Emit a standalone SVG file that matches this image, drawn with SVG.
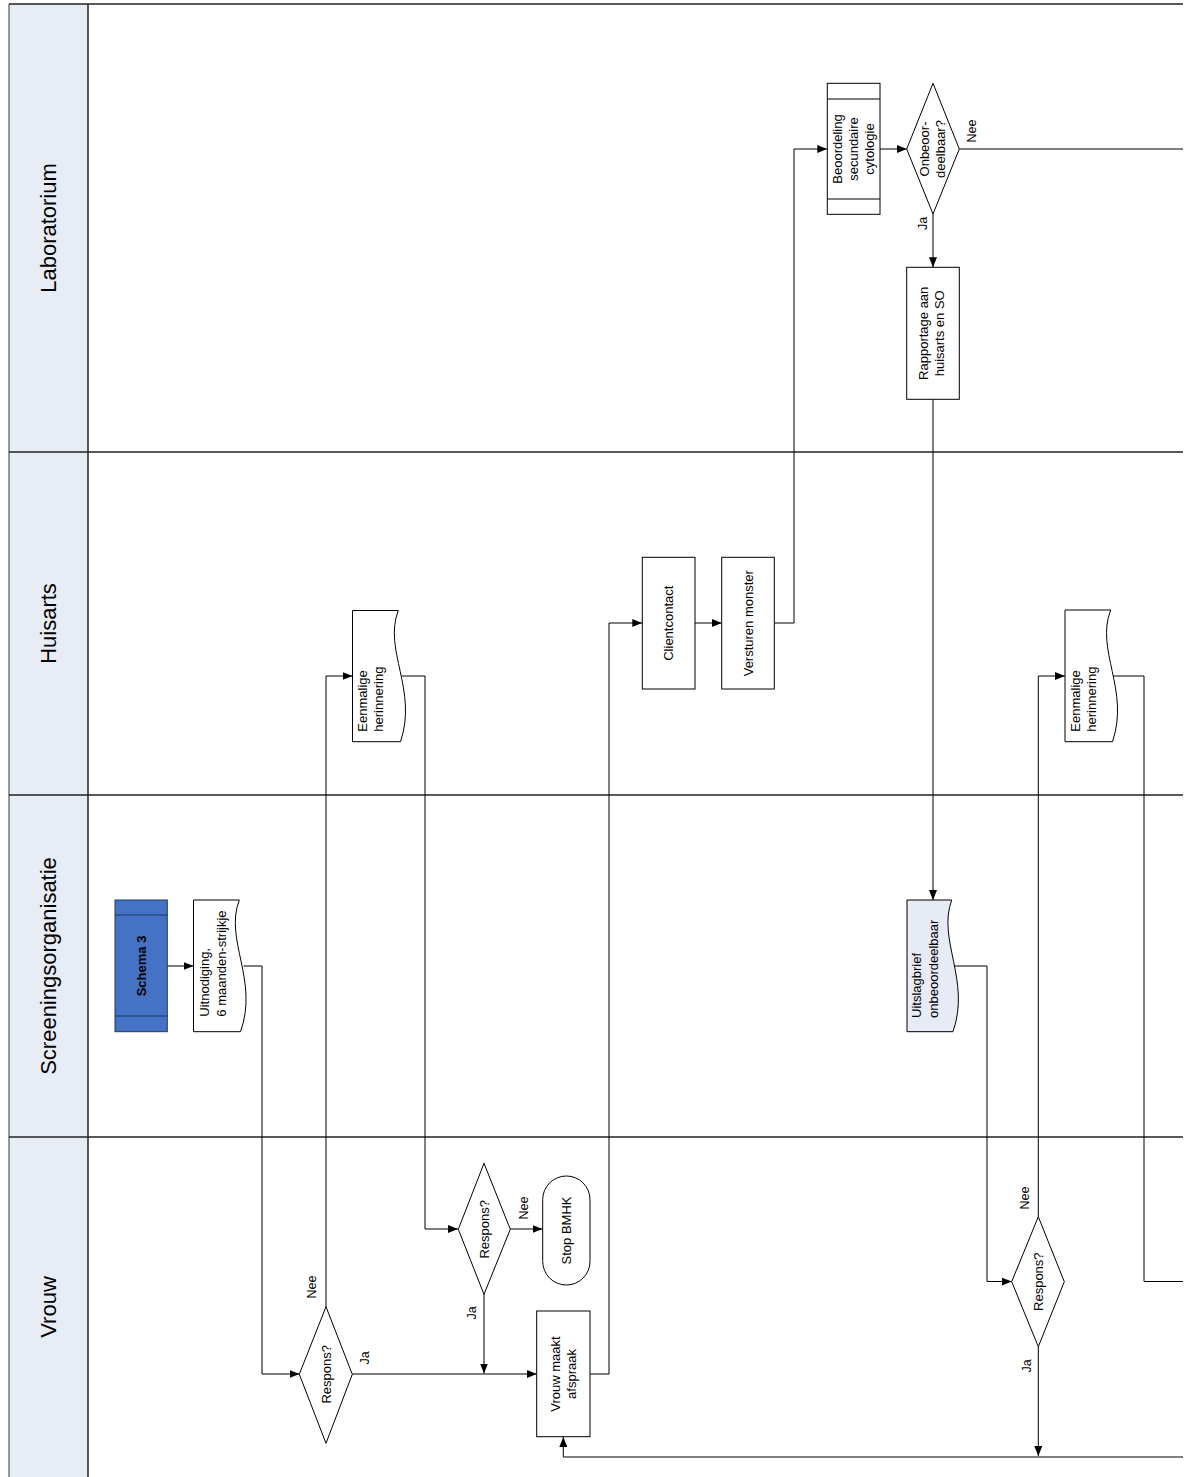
<svg xmlns="http://www.w3.org/2000/svg" width="1192" height="1477" viewBox="0 0 1192 1477">
<style>
text{font-family:"Liberation Sans",Arial,sans-serif;fill:#000}
.lane{font-size:22px}
.t{font-size:13px}
.lb{font-size:12.5px}
.shape{fill:#fff;stroke:#000;stroke-width:1}
.con{fill:none;stroke:#000;stroke-width:1}
.frame{stroke:#222;stroke-width:1.5;fill:none}
</style>
<defs>
<marker id="arr" viewBox="0 0 10 8" refX="10" refY="4" markerWidth="10" markerHeight="8" orient="auto" markerUnits="userSpaceOnUse"><path d="M0,0 L10,4 L0,8 z" fill="#000"/></marker>
</defs>
<rect width="1192" height="1477" fill="#fff"/>
<g id="lanes">
<rect x="9" y="4" width="79" height="1480" fill="#e8ecf5"/>
<line x1="9" y1="4" x2="9" y2="1477" stroke="#777" stroke-width="1.5"/>
<line x1="88" y1="4" x2="88" y2="1477" class="frame"/>
<line x1="9" y1="4" x2="1183" y2="4" class="frame" stroke-width="2"/>
<line x1="9" y1="452" x2="1183" y2="452" class="frame"/>
<line x1="9" y1="795" x2="1183" y2="795" class="frame"/>
<line x1="9" y1="1137" x2="1183" y2="1137" class="frame"/>
<text class="lane" text-anchor="middle" transform="translate(56,228) rotate(-90)">Laboratorium</text>
<text class="lane" text-anchor="middle" transform="translate(56,623.5) rotate(-90)">Huisarts</text>
<text class="lane" text-anchor="middle" transform="translate(56,966) rotate(-90)">Screeningsorganisatie</text>
<text class="lane" text-anchor="middle" transform="translate(56,1307) rotate(-90)">Vrouw</text>
</g>
<g id="connectors">
<path class="con" d="M167,966 H193.5" marker-end="url(#arr)"/>
<path class="con" d="M243.5,966 H262 V1374 H299.5" marker-end="url(#arr)"/>
<path class="con" d="M326,1307 V676 H352.5" marker-end="url(#arr)"/>
<path class="con" d="M352,1374 H536.7" marker-end="url(#arr)"/>
<path class="con" d="M402,676 H425 V1229 H458" marker-end="url(#arr)"/>
<path class="con" d="M510,1229 H542.5" marker-end="url(#arr)"/>
<path class="con" d="M484,1294 V1373.5" marker-end="url(#arr)"/>
<path class="con" d="M590,1374 H609 V623 H642.3" marker-end="url(#arr)"/>
<path class="con" d="M695,623 H721.7" marker-end="url(#arr)"/>
<path class="con" d="M774.3,623 H794 V149 H827.3" marker-end="url(#arr)"/>
<path class="con" d="M880,149 H906.7" marker-end="url(#arr)"/>
<path class="con" d="M959.3,149 H1183"/>
<path class="con" d="M933,214 V267.3" marker-end="url(#arr)"/>
<path class="con" d="M933,399.3 V900" marker-end="url(#arr)"/>
<path class="con" d="M954,966 H987 V1281.5 H1011.7" marker-end="url(#arr)"/>
<path class="con" d="M1038.3,1216.7 V676 H1065" marker-end="url(#arr)"/>
<path class="con" d="M1038.3,1346.7 V1456" marker-end="url(#arr)"/>
<path class="con" d="M1183,1457 H563.3 V1437" marker-end="url(#arr)"/>
<path class="con" d="M1112.7,676 H1144 V1281.5 H1183"/>
<text class="lb" transform="translate(976,131) rotate(-90)" text-anchor="middle">Nee</text>
<text class="lb" transform="translate(927,223.5) rotate(-90)" text-anchor="middle">Ja</text>
<text class="lb" transform="translate(316,1287) rotate(-90)" text-anchor="middle">Nee</text>
<text class="lb" transform="translate(369,1358) rotate(-90)" text-anchor="middle">Ja</text>
<text class="lb" transform="translate(528,1208) rotate(-90)" text-anchor="middle">Nee</text>
<text class="lb" transform="translate(476,1313) rotate(-90)" text-anchor="middle">Ja</text>
<text class="lb" transform="translate(1029,1198) rotate(-90)" text-anchor="middle">Nee</text>
<text class="lb" transform="translate(1031,1366) rotate(-90)" text-anchor="middle">Ja</text>
</g>
<g id="schema3">
<rect x="115" y="900" width="52.3" height="131.7" fill="#4472c4" stroke="#1f3864" stroke-width="1"/>
<line x1="115" y1="915" x2="167.3" y2="915" stroke="#1f3864"/>
<line x1="115" y1="1016" x2="167.3" y2="1016" stroke="#1f3864"/>
<text class="t" font-weight="bold" font-size="12" text-anchor="middle" transform="translate(145.5,966) rotate(-90)">Schema 3</text>
</g>
<g id="uitnodiging">
<path class="shape" d="M193.5,900 H239.3 C224,940 259,980 240.5,1031.7 H193.5 Z"/>
<text class="t" transform="translate(0,0) rotate(-90)"><tspan x="-1016.7" y="209">Uitnodiging,</tspan><tspan x="-1016.7" y="225.5">6 maanden-strijkje</tspan></text>
</g>
<g id="eenmalige1">
<path class="shape" d="M352.5,610.5 H398.3 C383,650 418,690 400.5,741.7 H352.5 Z"/>
<text class="t" transform="rotate(-90)"><tspan x="-731.7" y="367">Eenmalige</tspan><tspan x="-731.7" y="383">herinnering</tspan></text>
</g>
<g id="respons1">
<path class="shape" d="M326,1306.7 L352.3,1374.3 L326,1443.3 L299.3,1374.3 Z"/>
<text class="t" text-anchor="middle" transform="translate(331,1374.3) rotate(-90)">Respons?</text>
</g>
<g id="respons2">
<path class="shape" d="M484,1163.3 L510.3,1229.3 L484,1294.3 L458.3,1229.3 Z"/>
<text class="t" text-anchor="middle" transform="translate(489,1229.3) rotate(-90)">Respons?</text>
</g>
<g id="stopbmhk">
<rect class="shape" x="542.7" y="1176" width="47.3" height="109" rx="23.6" ry="23.6"/>
<text class="t" text-anchor="middle" transform="translate(571,1230.5) rotate(-90)">Stop BMHK</text>
</g>
<g id="vrouwmaakt">
<rect class="shape" x="536.7" y="1311" width="53.3" height="125.7"/>
<text class="t" text-anchor="middle" transform="rotate(-90)"><tspan x="-1374" y="559.9">Vrouw maakt</tspan><tspan x="-1374" y="575.9">afspraak</tspan></text>
</g>
<g id="clientcontact">
<rect class="shape" x="642.3" y="557.3" width="52.7" height="131.7"/>
<text class="t" text-anchor="middle" transform="translate(673.2,623.2) rotate(-90)">Clientcontact</text>
</g>
<g id="versturen">
<rect class="shape" x="721.7" y="557.3" width="52.6" height="131.7"/>
<text class="t" text-anchor="middle" transform="translate(752.6,623.2) rotate(-90)">Versturen monster</text>
</g>
<g id="beoordeling">
<rect class="shape" x="827.3" y="83.3" width="52.7" height="131"/>
<line x1="827.3" y1="99" x2="880" y2="99" stroke="#000"/>
<line x1="827.3" y1="199" x2="880" y2="199" stroke="#000"/>
<text class="t" text-anchor="middle" transform="rotate(-90)"><tspan x="-149" y="842.2">Beoordeling</tspan><tspan x="-149" y="858.2">secundaire</tspan><tspan x="-149" y="874.2">cytologie</tspan></text>
</g>
<g id="onbeoordeelbaar">
<path class="shape" d="M933,83.3 L959.3,149 L933,214 L906.7,149 Z"/>
<text class="t" text-anchor="middle" transform="rotate(-90)"><tspan x="-149" y="929.2">Onbeoor-</tspan><tspan x="-149" y="945.2">deelbaar?</tspan></text>
</g>
<g id="rapportage">
<rect class="shape" x="906.7" y="267.3" width="52.6" height="132"/>
<text class="t" text-anchor="middle" transform="rotate(-90)"><tspan x="-333.3" y="928.4">Rapportage aan</tspan><tspan x="-333.3" y="944.4">huisarts en SO</tspan></text>
</g>
<g id="uitslagbrief">
<path d="M907,900 H951.7 C937,940 971,980 953,1031.7 H907 Z" fill="#e6ebf5" stroke="#000" stroke-width="1"/>
<text class="t" transform="rotate(-90)"><tspan x="-1018" y="921">Uitslagbrief</tspan><tspan x="-1018" y="937.5">onbeoordeelbaar</tspan></text>
</g>
<g id="respons3">
<path class="shape" d="M1038.3,1216.7 L1064.3,1281.7 L1038.3,1346.7 L1011.7,1281.7 Z"/>
<text class="t" text-anchor="middle" transform="translate(1043,1281.7) rotate(-90)">Respons?</text>
</g>
<g id="eenmalige2">
<path class="shape" d="M1065,610 H1110.7 C1095,650 1130,690 1112.5,741.7 H1065 Z"/>
<text class="t" transform="rotate(-90)"><tspan x="-731.7" y="1080">Eenmalige</tspan><tspan x="-731.7" y="1096">herinnering</tspan></text>
</g>
</svg>
